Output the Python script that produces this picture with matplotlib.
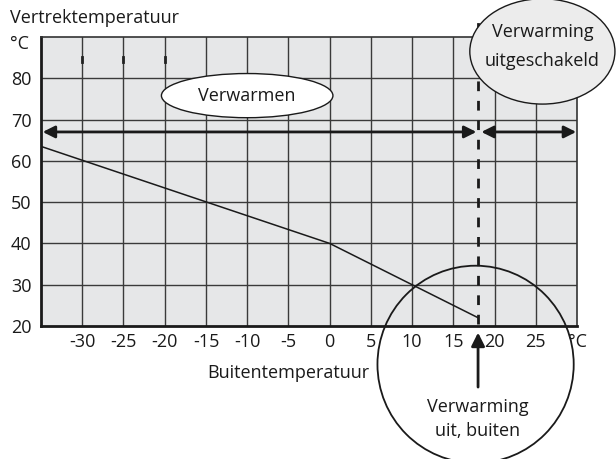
import matplotlib
matplotlib.use("Agg")
import matplotlib.pyplot as plt
from matplotlib.patches import Ellipse

plt.rcParams['font.family'] = ['Open Sans', 'DejaVu Sans']

# curve of supply temperature vs. outdoor temperature
outdoor = [-35, 0, 18]
supply = [63.5, 40, 22]

x_ticks = [-30, -25, -20, -15, -10, -5, 0, 5, 10, 15, 20, 25]
y_ticks = [20, 30, 40, 50, 60, 70, 80]
cutoff = 18
arrow_level = 67

FS = 13
INK = '#1a1a1a'

fig = plt.figure(figsize=(6.16, 4.59), dpi=100)
ax = fig.add_axes([0.0666, 0.2898, 0.8701, 0.6296])
ax.set_xlim(-35, 30)
ax.set_ylim(20, 90)
ax.set_facecolor('#e6e7e8')

# grid
for x in range(-30, 30, 5):
    ax.axvline(x, color='#3a3a3a', lw=1.0, zorder=1)
for y in range(30, 90, 10):
    ax.axhline(y, color='#3a3a3a', lw=1.0, zorder=1)
# small marks in top row
for x in [-30, -25, -20]:
    ax.plot([x, x], [83.9, 85.1], color='#222222', lw=2.0, zorder=1)

for s in ['left', 'bottom']:
    ax.spines[s].set_linewidth(2.0)
    ax.spines[s].set_color(INK)
for s in ['top', 'right']:
    ax.spines[s].set_linewidth(1.2)
    ax.spines[s].set_color('#333333')

ax.set_xticks(x_ticks + [30])
ax.set_xticklabels([str(t) for t in x_ticks] + ['°C'])
ax.set_yticks(y_ticks)
ax.tick_params(length=0, labelsize=FS, pad=5, colors=INK)
ax.tick_params(axis='y', pad=7)

# the heating curve
ax.plot(outdoor, supply, color=INK, lw=1.1, zorder=3)

# cutoff dashed line
ax.plot([cutoff, cutoff], [20.5, 94], color=INK, lw=2.0,
        ls=(0, (3.5, 3.5)), clip_on=False, zorder=4)

# arrows
ax.annotate('', xy=(-34.8, arrow_level), xytext=(17.8, arrow_level),
            arrowprops=dict(arrowstyle='<|-|>', color=INK, lw=2.0,
                            mutation_scale=18, shrinkA=0, shrinkB=0), zorder=5)
ax.annotate('', xy=(18.4, arrow_level), xytext=(29.9, arrow_level),
            arrowprops=dict(arrowstyle='<|-|>', color=INK, lw=2.0,
                            mutation_scale=18, shrinkA=0, shrinkB=0), zorder=5)

# labels in ellipses
ax.add_patch(Ellipse((-10, 75.8), 20.8, 10.7, facecolor='white',
                     edgecolor=INK, lw=1.0, zorder=6))
ax.text(-10, 75.6, 'Verwarmen', ha='center', va='center', fontsize=FS,
        color=INK, zorder=7)

ax.add_patch(Ellipse((25.8, 86.5), 17.6, 25.5, facecolor='#ececec',
                     edgecolor=INK, lw=1.0, zorder=6, clip_on=False))
ax.text(25.8, 91.3, 'Verwarming', ha='center', va='center', fontsize=FS,
        color=INK, zorder=7)
ax.text(25.8, 84.2, 'uitgeschakeld', ha='center', va='center', fontsize=FS,
        color=INK, zorder=7)

# circle below axis
ax.add_patch(Ellipse((17.7, 10.7), 23.8, 47.8, facecolor='none',
                     edgecolor=INK, lw=1.3, zorder=6, clip_on=False))
ax.annotate('', xy=(cutoff, 18.4), xytext=(cutoff, 5.2),
            arrowprops=dict(arrowstyle='-|>', color=INK, lw=2.0,
                            mutation_scale=20, shrinkA=0, shrinkB=0),
            annotation_clip=False, zorder=6)
ax.text(cutoff, -2.6, 'Verwarming\nuit, buiten', ha='center', va='center',
        fontsize=FS, color=INK, linespacing=1.45)

ax.text(-5, 8.6, 'Buitentemperatuur', ha='center', va='center', fontsize=FS,
        color=INK)

fig.text(10 / 616, 1 - 18 / 459, 'Vertrektemperatuur', ha='left', va='center',
         fontsize=FS, color=INK)
fig.text(10 / 616, 1 - 44 / 459, '°C', ha='left', va='center',
         fontsize=FS, color=INK)

fig.savefig('out.png', dpi=100)
